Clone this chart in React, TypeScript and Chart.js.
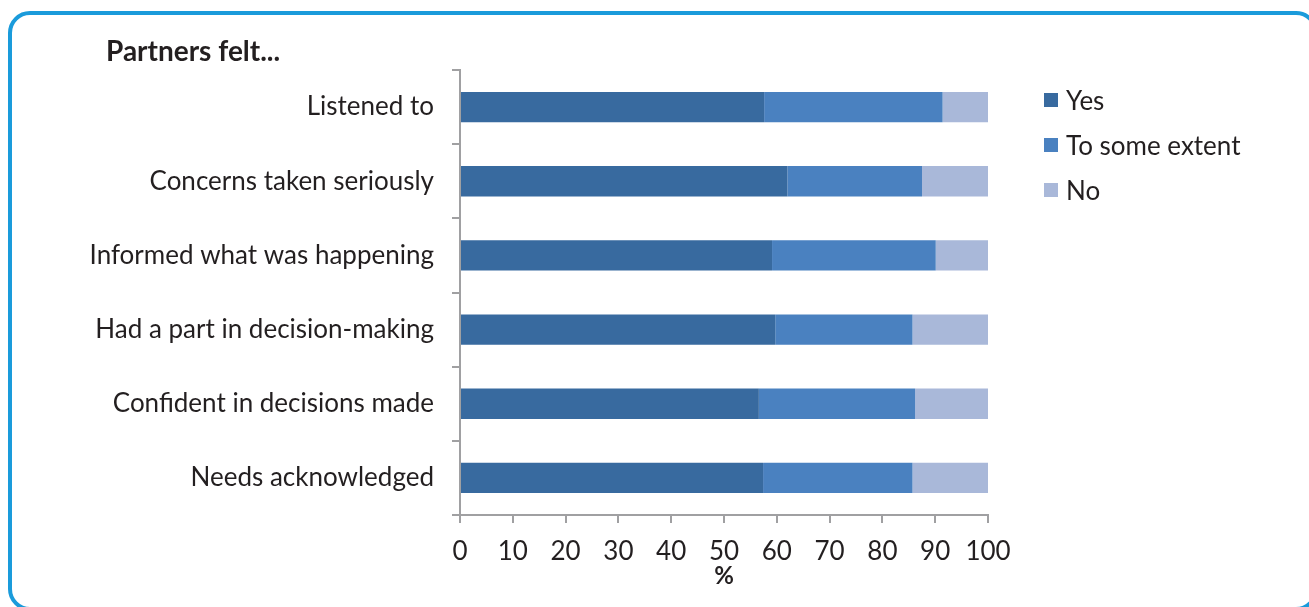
import React, { useEffect, useRef } from "react";
import { Chart, registerables } from "chart.js";

Chart.register(...registerables);

const categories = [
  "Listened to",
  "Concerns taken seriously",
  "Informed what was happening",
  "Had a part in decision-making",
  "Confident in decisions made",
  "Needs acknowledged",
];
const yesValues = [57.6, 62.0, 59.1, 59.7, 56.6, 57.4];
const someValues = [33.8, 25.5, 31.0, 26.0, 29.6, 28.3];
const noValues = [8.6, 12.5, 9.9, 14.3, 13.8, 14.3];
const seriesNames = ["Yes", "To some extent", "No"];
const seriesColors = ["#386a9f", "#4a81c0", "#a9b8d9"];
const chartTitle = "Partners felt...";
const xTitle = "%";

const FONT = "Lato, 'Open Sans', sans-serif";
const TEXT = "#231f20";
const AXIS = "#a0a0a2";

export default function App() {
  const ref = useRef<HTMLCanvasElement | null>(null);

  useEffect(() => {
    if (!ref.current) return;
    const overlay = {
      id: "overlay",
      afterDraw(chart: any) {
        const ctx = chart.ctx;
        ctx.save();
        ctx.fillStyle = TEXT;
        ctx.textBaseline = "middle";
        ctx.textAlign = "left";
        ctx.font = `bold 28px ${FONT}`;
        ctx.fillText(chartTitle, 106, 52);
        ctx.font = `26px ${FONT}`;
        seriesNames.forEach((name, i) => {
          const cy = 100 + i * 45;
          ctx.fillStyle = seriesColors[i];
          ctx.fillRect(1044, cy - 7, 14, 14);
          ctx.fillStyle = TEXT;
          ctx.fillText(name, 1066, cy + 1.5);
        });
        ctx.restore();
      },
    };

    const chart = new Chart(ref.current, {
      type: "bar",
      data: {
        labels: categories,
        datasets: [yesValues, someValues, noValues].map((d, i) => ({
          label: seriesNames[i],
          data: d,
          backgroundColor: seriesColors[i],
          borderWidth: 0,
          barPercentage: 0.41,
          categoryPercentage: 1,
        })),
      },
      options: {
        indexAxis: "y",
        animation: false,
        responsive: false,
        maintainAspectRatio: false,
        layout: { padding: { left: 0, right: 321, top: 70, bottom: 12 } },
        plugins: {
          legend: { display: false },
          title: { display: false },
          tooltip: { enabled: false },
        },
        scales: {
          x: {
            stacked: true,
            min: 0,
            max: 100,
            ticks: {
              stepSize: 10,
              color: TEXT,
              font: { family: FONT, size: 26 },
              padding: 13,
              maxRotation: 0,
            },
            grid: {
              drawOnChartArea: false,
              drawTicks: true,
              tickLength: 8,
              color: AXIS,
              lineWidth: 2,
            },
            border: { display: true, color: AXIS, width: 2 },
            title: {
              display: true,
              text: xTitle,
              color: TEXT,
              font: { family: FONT, size: 24, weight: "bold" },
              padding: { top: 0, bottom: 4 },
            },
            afterFit(scale: any) {
              scale.height = 80;
            },
          },
          y: {
            stacked: true,
            ticks: {
              color: TEXT,
              font: { family: FONT, size: 26 },
              padding: 18,
            },
            grid: {
              drawOnChartArea: false,
              drawTicks: true,
              tickLength: 8,
              color: AXIS,
              lineWidth: 2,
              offset: true,
            },
            border: { display: true, color: AXIS, width: 2 },
            afterFit(scale: any) {
              scale.width = 460;
            },
          },
        },
      },
      plugins: [overlay],
    } as any);
    return () => chart.destroy();
  }, []);

  return (
    <div style={{ position: "fixed", left: 0, top: 0, width: 1309, height: 607, overflow: "hidden", background: "#fff" }}>
      <div
        style={{
          position: "absolute",
          left: 8,
          top: 11,
          width: 1310,
          height: 600,
          border: "4px solid #1a9bdb",
          borderRadius: 22,
          boxSizing: "border-box",
        }}
      />
      <canvas ref={ref} width={1309} height={607} style={{ position: "absolute", left: 0, top: 0, width: 1309, height: 607 }} />
    </div>
  );
}
